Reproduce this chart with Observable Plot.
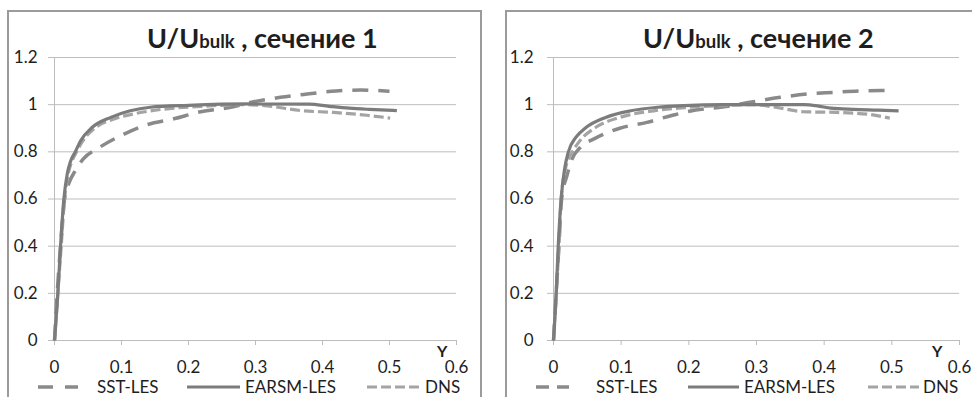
<!DOCTYPE html>
<html><head><meta charset="utf-8">
<script src="https://cdn.jsdelivr.net/npm/d3@7"></script>
<script src="https://cdn.jsdelivr.net/npm/@observablehq/plot@0.6"></script>
<style>
body{margin:0;background:#fff;}
#root{position:relative;width:972px;height:397px;overflow:hidden;background:#fff;font-family:Lato,sans-serif;color:#1e1e1e;}
.box{position:absolute;border:2px solid #9b9b9b;box-sizing:border-box;}
.plot{position:absolute;top:0;}
.title{position:absolute;font-weight:bold;font-size:27px;line-height:1;white-space:nowrap;}
.title .sub{font-size:18.5px;}
.leg{position:absolute;font-size:17px;line-height:1;white-space:nowrap;}
.legline{position:absolute;}
.ylab{position:absolute;font-weight:bold;font-size:16px;line-height:1;}
</style></head><body><div id="root"></div>
<script>
// ---- tick values ----
const xTicks = [0, 0.1, 0.2, 0.3, 0.4, 0.5, 0.6];
const yTicks = [0, 0.2, 0.4, 0.6, 0.8, 1, 1.2];
const seriesNames = ["SST-LES", "EARSM-LES", "DNS"];
const sectionTitles = ["сечение 1", "сечение 2"];

// ---- section 1 ----
const s1_sst_x   = [0, 0.004, 0.009, 0.015, 0.022, 0.031, 0.043, 0.065, 0.1, 0.138, 0.178, 0.218, 0.265, 0.297, 0.337, 0.377, 0.42, 0.457, 0.50];
const s1_sst_u   = [0, 0.2, 0.4, 0.6, 0.67, 0.72, 0.77, 0.815, 0.87, 0.915, 0.94, 0.97, 0.99, 1.012, 1.031, 1.045, 1.058, 1.062, 1.057];
const s1_earsm_x = [0, 0.005, 0.009, 0.014, 0.019, 0.024, 0.031, 0.039, 0.056, 0.084, 0.113, 0.143, 0.2, 0.29, 0.38, 0.41, 0.44, 0.47, 0.511];
const s1_earsm_u = [0, 0.2, 0.4, 0.6, 0.706, 0.76, 0.8, 0.847, 0.903, 0.946, 0.974, 0.989, 0.997, 1.003, 1.002, 0.993, 0.985, 0.98, 0.975];
const s1_dns_x   = [0, 0.005, 0.010, 0.015, 0.02, 0.026, 0.033, 0.042, 0.06, 0.09, 0.12, 0.16, 0.22, 0.28, 0.317, 0.367, 0.417, 0.466, 0.501];
const s1_dns_u   = [0, 0.2, 0.4, 0.6, 0.7, 0.76, 0.8, 0.845, 0.9, 0.94, 0.962, 0.98, 0.993, 1.0, 0.995, 0.975, 0.967, 0.955, 0.943];

// ---- section 2 ----
const s2_sst_x   = [0, 0.004, 0.008, 0.012, 0.02, 0.026, 0.04, 0.06, 0.098, 0.138, 0.176, 0.21, 0.25, 0.29, 0.335, 0.375, 0.414, 0.453, 0.492];
const s2_sst_u   = [0, 0.2, 0.4, 0.6, 0.7, 0.76, 0.82, 0.855, 0.9, 0.925, 0.955, 0.977, 0.99, 1.01, 1.031, 1.045, 1.052, 1.058, 1.06];
const s2_earsm_x = [0, 0.004, 0.007, 0.011, 0.016, 0.022, 0.033, 0.048, 0.077, 0.114, 0.154, 0.193, 0.25, 0.3, 0.37, 0.39, 0.41, 0.443, 0.48, 0.51];
const s2_earsm_u = [0, 0.2, 0.4, 0.59, 0.72, 0.8, 0.861, 0.903, 0.946, 0.974, 0.989, 0.996, 1.0, 1.0, 1.0, 0.995, 0.985, 0.98, 0.977, 0.974];
const s2_dns_x   = [0, 0.004, 0.008, 0.011, 0.018, 0.028, 0.039, 0.062, 0.098, 0.148, 0.197, 0.246, 0.296, 0.33, 0.37, 0.419, 0.468, 0.497];
const s2_dns_u   = [0, 0.2, 0.4, 0.59, 0.733, 0.8, 0.847, 0.903, 0.946, 0.974, 0.988, 0.996, 1.0, 0.988, 0.97, 0.967, 0.958, 0.943];

const styles = {
  "SST-LES":   {stroke: "#8a8a8a", strokeWidth: 3.5, dash: "16,10"},
  "EARSM-LES": {stroke: "#7c7c7c", strokeWidth: 3.2, dash: null},
  "DNS":       {stroke: "#a4a4a4", strokeWidth: 3.2, dash: "10,4"}
};

function rows(xs, us) { return xs.map((x, i) => ({x, u: us[i]})); }

const sections = [
  {sst: rows(s1_sst_x, s1_sst_u), earsm: rows(s1_earsm_x, s1_earsm_u), dns: rows(s1_dns_x, s1_dns_u)},
  {sst: rows(s2_sst_x, s2_sst_u), earsm: rows(s2_earsm_x, s2_earsm_u), dns: rows(s2_dns_x, s2_dns_u)}
];

const layout = [
  {left: 0,   mL: 54, mR: 30, tp: 11, box: [7, 10, 475], title: 147, ylab: 437, sstDash: "15,12",
   leg: [[38, 78], 97, [187, 240], 245, [367, 422], 425]},
  {left: 486, mL: 67, mR: 13, tp: 14, box: [505, 10, 480], title: 643, ylab: 932, sstDash: "13,8",
   leg: [[536, 569], 596, [688, 739], 744, [868, 919], 923]}
];

const root = document.getElementById("root");

function lineMark(data, name) {
  const s = styles[name];
  return Plot.line(data, {x: "x", y: "u", curve: "monotone-x", stroke: s.stroke,
    strokeWidth: s.strokeWidth, strokeDasharray: s.dash || undefined, strokeLinecap: "butt"});
}

layout.forEach((L, k) => {
  const box = document.createElement("div");
  box.className = "box";
  box.style.left = L.box[0] + "px"; box.style.top = L.box[1] + "px";
  box.style.width = L.box[2] + "px"; box.style.height = "430px";
  root.appendChild(box);

  const sec = sections[k];
  const chart = Plot.plot({
    width: 486, height: 397,
    marginLeft: L.mL, marginRight: L.mR, marginTop: 57, marginBottom: 57,
    x: {domain: [0, 0.6]},
    y: {domain: [0, 1.2]},
    style: {background: "transparent", fontFamily: "Lato, sans-serif", fontSize: "17px", color: "#1e1e1e", overflow: "visible"},
    marks: [
      Plot.gridY(yTicks.slice(1), {stroke: "#bdbdbd", strokeOpacity: 1, strokeWidth: 1}),
      Plot.ruleY([0], {stroke: "#bdbdbd"}),
      Plot.ruleX([0], {y1: 0, y2: 1.2, stroke: "#bdbdbd"}),
      Plot.axisY(yTicks, {tickSize: 6, tickPadding: L.tp, stroke: "#bdbdbd", strokeOpacity: 1, tickFormat: d => String(d), label: null}),
      Plot.axisX(xTicks, {tickSize: 5, tickPadding: 15, stroke: "#bdbdbd", strokeOpacity: 1, tickFormat: d => String(d), label: null}),
      lineMark(sec.sst, "SST-LES"),
      lineMark(sec.dns, "DNS"),
      lineMark(sec.earsm, "EARSM-LES")
    ]
  });
  chart.classList.add("plot");
  chart.style.left = L.left + "px";
  root.appendChild(chart);

  // title
  const t = document.createElement("div");
  t.className = "title";
  t.innerHTML = 'U/U<span class="sub">bulk</span> ,&nbsp;' + sectionTitles[k];
  t.style.left = L.title + "px";
  t.style.top = (48 - 0.887 * 27) + "px";
  root.appendChild(t);

  // axis label
  const yl = document.createElement("div");
  yl.className = "ylab"; yl.textContent = "Y";
  yl.style.left = L.ylab + "px"; yl.style.top = (357 - 0.887 * 16) + "px";
  root.appendChild(yl);

  // legend
  seriesNames.forEach((name, i) => {
    const [x0, x1] = L.leg[i * 2];
    const tx = L.leg[i * 2 + 1];
    const s = styles[name];
    const sv = document.createElementNS("http://www.w3.org/2000/svg", "svg");
    sv.setAttribute("class", "legline");
    sv.setAttribute("width", x1 - x0); sv.setAttribute("height", 10);
    sv.style.left = x0 + "px"; sv.style.top = "382px";
    const ln = document.createElementNS("http://www.w3.org/2000/svg", "line");
    ln.setAttribute("x1", 0); ln.setAttribute("x2", x1 - x0);
    ln.setAttribute("y1", 5); ln.setAttribute("y2", 5);
    ln.setAttribute("stroke", s.stroke); ln.setAttribute("stroke-width", s.strokeWidth);
    if (s.dash) ln.setAttribute("stroke-dasharray", name === "SST-LES" ? L.sstDash : "10,4");
    sv.appendChild(ln);
    root.appendChild(sv);
    const lt = document.createElement("div");
    lt.className = "leg"; lt.textContent = name;
    lt.style.left = tx + "px"; lt.style.top = (393 - 0.887 * 17) + "px";
    root.appendChild(lt);
  });
});
</script></body></html>
